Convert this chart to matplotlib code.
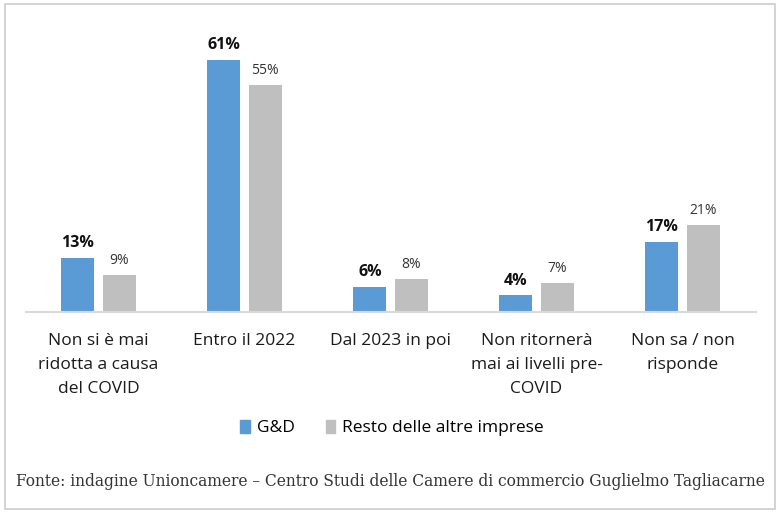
import matplotlib
matplotlib.use("Agg")
import matplotlib.pyplot as plt
import numpy as np
from matplotlib.patches import Rectangle, Patch

categories = ["Non si è mai\nridotta a causa\ndel COVID", "Entro il 2022", "Dal 2023 in poi",
              "Non ritornerà\nmai ai livelli pre-\nCOVID", "Non sa / non\nrisponde"]
gd = [13, 61, 6, 4, 17]
resto = [9, 55, 8, 7, 21]
series_names = ["G&D", "Resto delle altre imprese"]
source = "Fonte: indagine Unioncamere – Centro Studi delle Camere di commercio Guglielmo Tagliacarne"

blue = "#5B9BD5"
grey = "#BFBFBF"
font = "Open Sans"

W, H = 783, 517
fig = plt.figure(figsize=(W/100, H/100), dpi=100)
fig.patch.set_facecolor("white")

# axes placement in pixels
x0, x1 = 25.5, 755.5
ybase, ytop = 312, 23
ax = fig.add_axes([x0/W, (H-ybase)/H, (x1-x0)/W, (ybase-ytop)/H])
x = np.arange(len(categories))
bw = 0.226
off = 0.141
b1 = ax.bar(x - off, gd, bw, color=blue)
b2 = ax.bar(x + off, resto, bw, color=grey)
ax.set_xlim(-0.5, len(categories) - 0.5)
ax.set_ylim(0, 70)
for s in ["top", "right", "left"]:
    ax.spines[s].set_visible(False)
ax.spines["bottom"].set_color("#D9D9D9")
ax.spines["bottom"].set_linewidth(1.5)
ax.set_yticks([])
ax.set_xticks(x)
ax.set_xticklabels(categories, fontfamily=font, fontsize=12.5, color="#1a1a1a", linespacing=1.66)
ax.tick_params(axis="x", length=0, pad=15)

for r, v in zip(b1, gd):
    ax.annotate(f"{v}%", (r.get_x() + r.get_width()/2, v), xytext=(0, 5), textcoords="offset points",
                ha="center", va="bottom", fontsize=11.5, fontweight="bold", fontfamily=font, color="#111111")
for r, v in zip(b2, resto):
    ax.annotate(f"{v}%", (r.get_x() + r.get_width()/2, v), xytext=(0, 5), textcoords="offset points",
                ha="center", va="bottom", fontsize=10, fontfamily=font, color="#333333")

handles = [Patch(color=blue), Patch(color=grey)]
fig.legend(handles, series_names, loc="center", bbox_to_anchor=(392/W, 1 - 428/H), ncol=2, frameon=False,
           prop={"family": font, "size": 12.5}, handlelength=0.55, handleheight=0.8, handletextpad=0.4,
           columnspacing=1.8)

fig.text(390/W, 1 - 481/H, source, ha="center", va="center", fontfamily="DejaVu Serif", fontsize=11.2,
         color="#333333")

fig.add_artist(Rectangle((5/W, 1 - 509/H), 770/W, 505/H, transform=fig.transFigure, fill=False,
                         edgecolor="#CCCCCC", linewidth=1.2))

fig.savefig("out.png", dpi=100)
